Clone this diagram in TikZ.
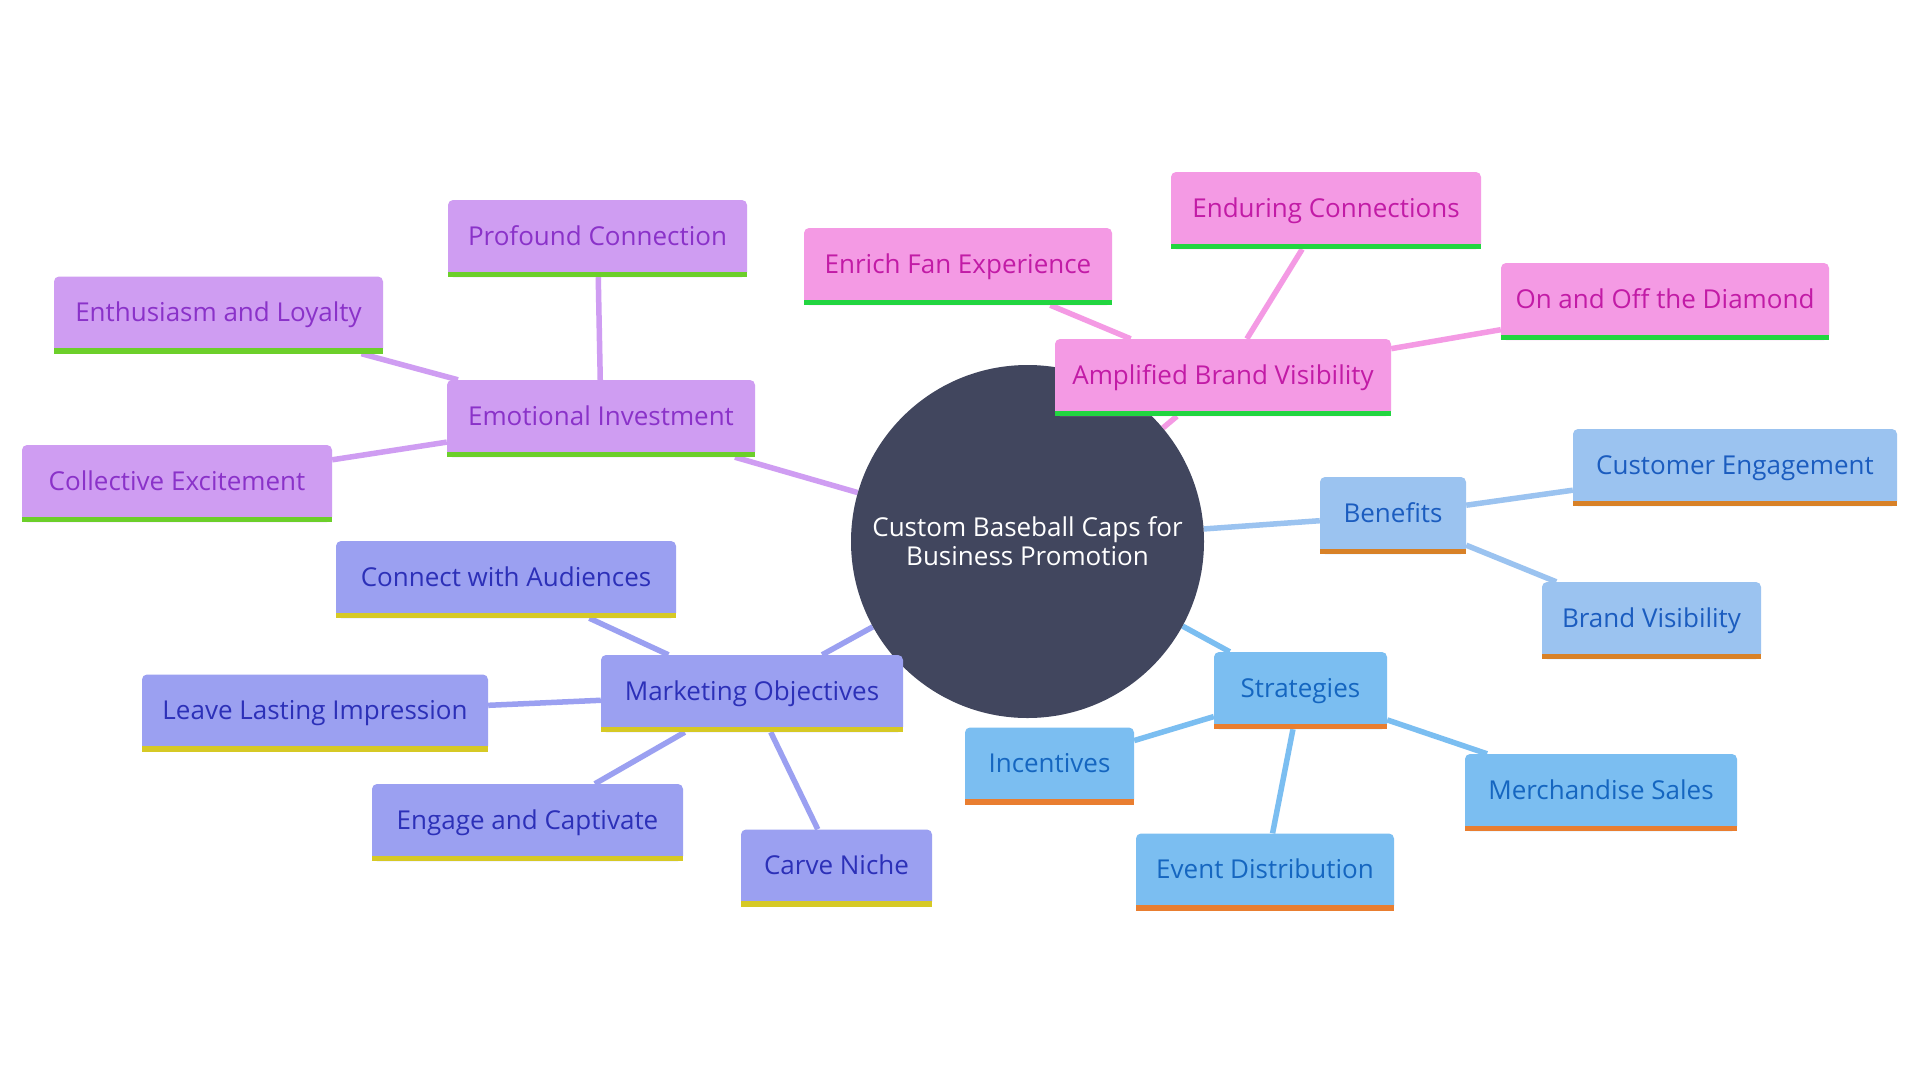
\documentclass[tikz,border=0pt]{standalone}
\usepackage{fontspec}
\setmainfont{Open Sans}
\usetikzlibrary{backgrounds}

\definecolor{rootfill}{HTML}{41465E}
\definecolor{purplefill}{HTML}{CF9DF2}
\definecolor{purpletext}{HTML}{8A32C9}
\definecolor{purplebar}{HTML}{6CCF2A}
\definecolor{pinkfill}{HTML}{F49AE4}
\definecolor{pinktext}{HTML}{C21BA6}
\definecolor{pinkbar}{HTML}{22D540}
\definecolor{indigofill}{HTML}{9BA0F1}
\definecolor{indigotext}{HTML}{2C30B8}
\definecolor{indigobar}{HTML}{D6C925}
\definecolor{skyfill}{HTML}{9BC3F0}
\definecolor{skytext}{HTML}{1B5CBF}
\definecolor{skybar}{HTML}{D88127}
\definecolor{bluefill}{HTML}{7BBEF1}
\definecolor{bluetext}{HTML}{1566C0}
\definecolor{bluebar}{HTML}{E97E30}

\tikzset{
    box/.style={rounded corners=5pt, inner sep=0pt, minimum height=77pt,
        text height=20pt, text depth=7pt, font=\fontsize{26}{29}\selectfont},
    purplebox/.style={box, fill=purplefill, text=purpletext},
    pinkbox/.style={box, fill=pinkfill, text=pinktext},
    indigobox/.style={box, fill=indigofill, text=indigotext},
    skybox/.style={box, fill=skyfill, text=skytext},
    bluebox/.style={box, fill=bluefill, text=bluetext},
    link/.style={line width=5.5pt},
}

\begin{document}
\begin{tikzpicture}[x=1pt, y=-1pt]
    \useasboundingbox (0,0) rectangle (1920,1080);

    % centre
    \node[circle, fill=rootfill, text=white, minimum size=353pt, inner sep=0pt,
        align=center, font=\fontsize{26}{29}\selectfont] (root) at (1027.5,541.5)
        {Custom Baseball Caps for\\Business Promotion};

    % emotional investment
    \node[purplebox, minimum width=308pt] (ei) at (601,418.5) {Emotional Investment};
    \node[purplebox, minimum width=299pt] (pc) at (597.5,238.5) {Profound Connection};
    \node[purplebox, minimum width=329pt] (el) at (218.5,315) {Enthusiasm and Loyalty};
    \node[purplebox, minimum width=310pt] (cx) at (177,483.5) {Collective Excitement};

    % amplified brand visibility
    \node[pinkbox, minimum width=336pt] (ab) at (1223,377.5) {Amplified Brand Visibility};
    \node[pinkbox, minimum width=308pt] (ef) at (958,266.5) {Enrich Fan Experience};
    \node[pinkbox, minimum width=310pt] (ec) at (1326,210.5) {Enduring Connections};
    \node[pinkbox, minimum width=328pt] (od) at (1665,301.5) {On and Off the Diamond};

    % marketing objectives
    \node[indigobox, minimum width=302pt] (mo) at (752,693.5) {Marketing Objectives};
    \node[indigobox, minimum width=340pt] (ca) at (506,579.5) {Connect with Audiences};
    \node[indigobox, minimum width=346pt] (li) at (315,713) {Leave Lasting Impression};
    \node[indigobox, minimum width=311pt] (eg) at (527.5,822.5) {Engage and Captivate};
    \node[indigobox, minimum width=191pt] (cn) at (836.5,868) {Carve Niche};

    % benefits
    \node[skybox, minimum width=146pt] (be) at (1393,515.5) {Benefits};
    \node[skybox, minimum width=324pt] (cg) at (1735,467.5) {Customer Engagement};
    \node[skybox, minimum width=219pt] (bv) at (1651.5,620.5) {Brand Visibility};

    % strategies
    \node[bluebox, minimum width=173pt] (st) at (1300.5,690.5) {Strategies};
    \node[bluebox, minimum width=169pt] (in) at (1049.5,766) {Incentives};
    \node[bluebox, minimum width=272pt] (ms) at (1601,792.5) {Merchandise Sales};
    \node[bluebox, minimum width=258pt] (ed) at (1265,872) {Event Distribution};

    % bottom bars
    \foreach \n/\c in {ei/purplebar, pc/purplebar, el/purplebar, cx/purplebar,
        ab/pinkbar, ef/pinkbar, ec/pinkbar, od/pinkbar,
        mo/indigobar, ca/indigobar, li/indigobar, eg/indigobar, cn/indigobar,
        be/skybar, cg/skybar, bv/skybar,
        st/bluebar, in/bluebar, ms/bluebar, ed/bluebar}
        \fill[\c] ([yshift=5.5pt]\n.south west) rectangle (\n.south east);

    \begin{scope}[on background layer]
        \fill[white] (0,0) rectangle (1920,1080);
        \draw[link, purplefill] (root) -- (ei);
        \foreach \n in {pc,el,cx} \draw[link, purplefill] (ei) -- (\n);
        \draw[link, pinkfill] (root) -- (ab);
        \foreach \n in {ef,ec,od} \draw[link, pinkfill] (ab) -- (\n);
        \draw[link, indigofill] (root) -- (mo);
        \foreach \n in {ca,li,eg,cn} \draw[link, indigofill] (mo) -- (\n);
        \draw[link, skyfill] (root) -- (be);
        \foreach \n in {cg,bv} \draw[link, skyfill] (be) -- (\n);
        \draw[link, bluefill] (root) -- (st);
        \foreach \n in {in,ms,ed} \draw[link, bluefill] (st) -- (\n);
    \end{scope}
\end{tikzpicture}
\end{document}
